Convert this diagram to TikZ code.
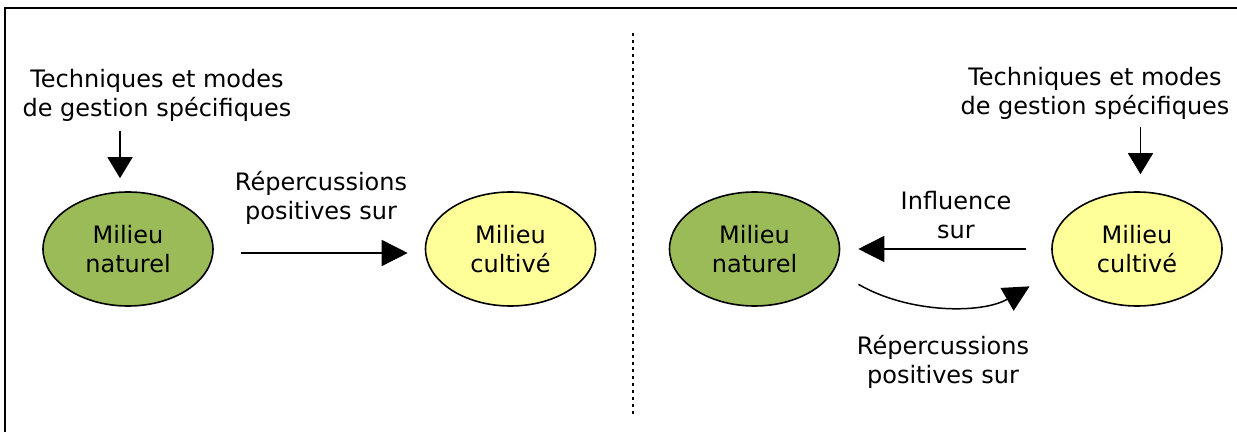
\documentclass[tikz,border=0pt]{standalone}
\usepackage{fontspec}
\setmainfont{DejaVu Sans}
\usetikzlibrary{shapes, arrows.meta, calc, positioning}
\definecolor{vert}{HTML}{9BBB59}
\definecolor{jaune}{HTML}{FFFF99}
\tikzstyle{milieu} = [ellipse, draw=black, line width=0.8pt, minimum width=85pt, minimum height=57pt, align=center, inner sep=0pt]
\tikzstyle{texte} = [align=center, inner sep=0pt]
\tikzstyle{arrow} = [line width=0.75pt, -{Triangle[length=13pt,width=13pt]}]

\begin{document}
\begin{tikzpicture}[x=0.5pt, y=-0.5pt, font=\fontsize{12}{14.5}\selectfont]
    \useasboundingbox (0,0) rectangle (1237,432);
    % cadre et separation
    \draw [line width=1pt] (5,432) -- (5,8) -- (1237,8);
    \draw [line width=1pt, dash pattern=on 1.5pt off 2pt] (633,33) -- (633,417);
    % partie gauche
    \node (Nat1) [milieu, fill=vert] at (128,249) {Milieu\\naturel};
    \node (Cult1) [milieu, fill=jaune] at (510.5,249) {Milieu\\cultivé};
    \node (Tech1) [texte] at (157,95) {Techniques et modes\\de gestion spécifiques};
    \node (Rep1) [texte] at (321,198) {Répercussions\\positives sur};
    \draw [arrow, -{Triangle[length=10.5pt,width=12.5pt]}, shorten <=4.5pt, shorten >=6.5pt] ([xshift=-4pt]Nat1.north |- Tech1.south) -- ([xshift=-4pt]Nat1.north);
    \draw [arrow, shorten <=13.5pt, shorten >=8.5pt] ([yshift=-2pt]Nat1.east) -- ([yshift=-2pt]Cult1.west);
    % partie droite
    \node (Nat2) [milieu, fill=vert] at (754.5,249) {Milieu\\naturel};
    \node (Cult2) [milieu, fill=jaune] at (1137,249) {Milieu\\cultivé};
    \node (Tech2) [texte] at (1095,93.5) {Techniques et modes\\de gestion spécifiques};
    \node (Infl) [texte] at (956,215) {Influence\\sur};
    \node (Rep2) [texte] at (943,362) {Répercussions\\positives sur};
    \draw [arrow, -{Triangle[length=10.5pt,width=12.5pt]}, shorten <=3.5pt, shorten >=8.5pt] ([xshift=1.75pt]Cult2.north |- Tech2.south) -- ([xshift=1.75pt]Cult2.north);
    \draw [arrow, shorten <=12.5pt, shorten >=9pt] (Cult2.west) -- (Nat2.east);
    \draw [arrow, shorten <=14pt, shorten >=16pt] (Nat2.-15) to[bend right=30] (Cult2.195);
\end{tikzpicture}
\end{document}
